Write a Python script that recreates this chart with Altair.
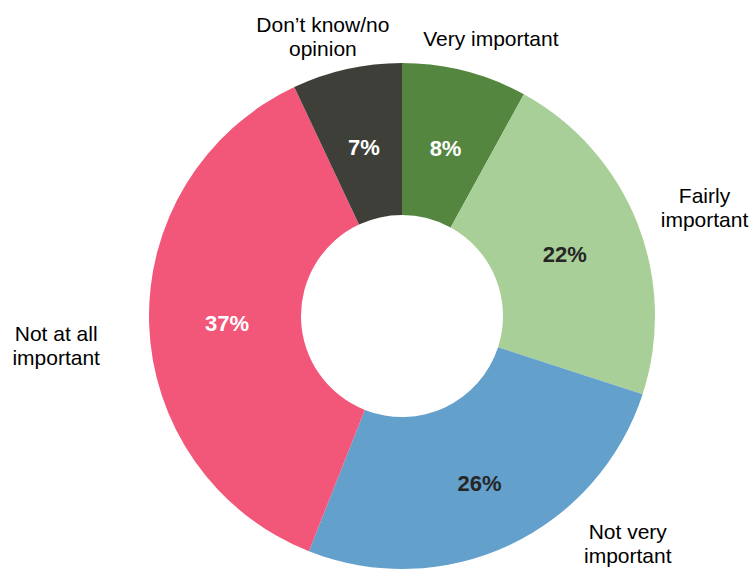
import altair as alt
import pandas as pd
import math

categories = ["Very important", "Fairly important", "Not very important",
              "Not at all important", "Don't know/no opinion"]
label_lines = [["Very important"], ["Fairly", "important"], ["Not very", "important"],
               ["Not at all", "important"], ["Don\u2019t know/no", "opinion"]]
values = [8, 22, 26, 37, 7]
pct_labels = ["8%", "22%", "26%", "37%", "7%"]
colors = ["#548640", "#a9cf98", "#63a0cb", "#f25679", "#3f3f3a"]
pct_colors = ["#ffffff", "#262626", "#262626", "#ffffff", "#ffffff"]

df = pd.DataFrame({
    "cat": categories,
    "value": values,
    "pct": pct_labels,
    "lines": label_lines,
    "order": list(range(len(categories))),
    "pctcolor": pct_colors,
})

cx, cy = 402, 316
color_scale = alt.Scale(domain=categories, range=colors)
theta_scale = alt.Scale(domain=[0, sum(values)], range=[0, 2 * math.pi])

base = alt.Chart(df).transform_window(
    cum="sum(value)", sort=[alt.SortField("order")]
).transform_calculate(
    start="datum.cum - datum.value",
    mid="datum.cum - datum.value / 2",
)

arcs = base.mark_arc(outerRadius=253, innerRadius=101).encode(
    theta=alt.Theta("start:Q", scale=theta_scale, stack=None),
    theta2="cum:Q",
    color=alt.Color("cat:N", scale=color_scale, legend=None),
    x=alt.value(cx), y=alt.value(cy),
)

def pct_layer(cats, radius, dy):
    return base.transform_filter(
        alt.FieldOneOfPredicate(field="cat", oneOf=cats)
    ).mark_text(radius=radius, font="Liberation Sans", fontWeight="bold",
                fontSize=22, align="center", baseline="middle", dy=dy).encode(
        theta=alt.Theta("mid:Q", scale=theta_scale, stack=None),
        text="pct:N",
        color=alt.Color("pctcolor:N", scale=None),
        x=alt.value(cx), y=alt.value(cy),
    )

pct_a = pct_layer(["Very important", "Fairly important", "Not at all important",
                   "Don't know/no opinion"], 175, 3)
pct_b = pct_layer(["Not very important"], 182, 3)

def outside(cat, radius, dx=0, dy=0):
    return base.transform_filter(alt.datum.cat == cat).mark_text(
        radius=radius, font="Liberation Sans", fontSize=21, lineHeight=24,
        align="center", baseline="middle", color="#000000", dx=dx, dy=dy,
    ).encode(
        theta=alt.Theta("mid:Q", scale=theta_scale, stack=None),
        text="lines",
        x=alt.value(cx), y=alt.value(cy),
    )

labels = [
    outside("Very important", 285, 18, 0),
    outside("Fairly important", 320, 5, -1),
    outside("Not very important", 300, 98, -54),
    outside("Not at all important", 343, -3, 8),
    outside("Don't know/no opinion", 294, -15, -3),
]

chart = alt.layer(arcs, pct_a, pct_b, *labels).properties(
    width=749, height=570,
    autosize=alt.AutoSizeParams(type="none"),
    padding=0,
).configure_view(stroke=None)

chart.save("out.html", embed_options={"renderer": "svg", "actions": False})
